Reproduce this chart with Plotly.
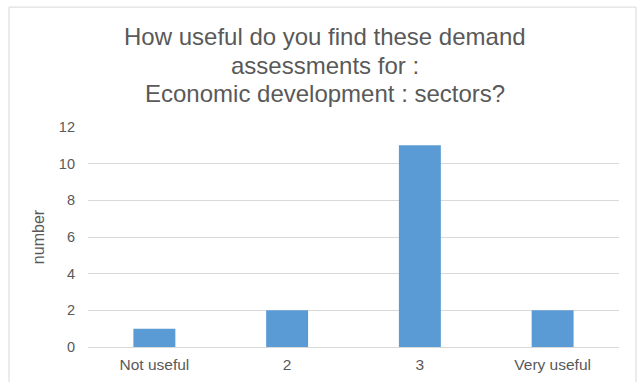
import plotly.graph_objects as go

categories = ["Not useful", "2", "3", "Very useful"]
values = [1, 2, 11, 2]
y_ticks = [0, 2, 4, 6, 8, 10, 12]
title_lines = ["How useful do you find these demand", "assessments for :", "Economic development : sectors?"]

fig = go.Figure(go.Bar(x=categories, y=values, marker=dict(color="#5B9BD5", line=dict(width=0)), width=0.316))

font = "Liberation Sans, Arial, sans-serif"
grey = "#595959"
# plot area: x 88..619, y 127..347 (pixels)
title_y_px = [37, 65, 93]
annotations = [
    dict(text=t, xref="paper", yref="paper", x=(325 - 88) / 531, y=(347 - py) / 220,
         xanchor="center", yanchor="middle", showarrow=False,
         font=dict(family=font, size=24, color=grey))
    for t, py in zip(title_lines, title_y_px)
]

fig.update_layout(
    width=638, height=382,
    margin=dict(l=88, r=19, t=127, b=35),
    paper_bgcolor="white", plot_bgcolor="white",
    showlegend=False,
    font=dict(family=font, color=grey, size=14),
    xaxis=dict(showgrid=False, showline=False, ticks="", tickfont=dict(size=15.5, color=grey),
               ticklabelstandoff=6, automargin=False),
    yaxis=dict(range=[0, 12], tickvals=y_ticks, showgrid=True, gridcolor="#D9D9D9", gridwidth=1,
               zeroline=True, zerolinecolor="#D9D9D9", zerolinewidth=1, ticks="",
               tickfont=dict(size=14.5, color=grey), ticklabelstandoff=12, automargin=False,
               title=dict(text="number", font=dict(size=16, color=grey), standoff=10)),
    annotations=annotations,
    shapes=[dict(type="rect", xref="paper", yref="paper", x0=-0.1488, x1=1.032, y0=-0.3, y1=1.545,
                 line=dict(color="#D9D9D9", width=1), fillcolor="rgba(0,0,0,0)", layer="below")],
)

fig.write_html("out.html")
